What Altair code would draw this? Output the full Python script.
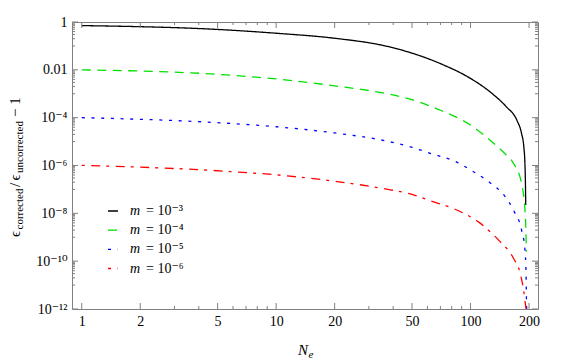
import altair as alt
import pandas as pd

# ---- data ----
series = ["m3", "m4", "m5", "m6"]
legend_labels = ["= 10⁻³", "= 10⁻⁴", "= 10⁻⁵", "= 10⁻⁶"]
colors = ["#000000", "#00e000", "#0000ff", "#ff0000"]
dashes = [[1, 0], [9, 6.5], [3, 6.7], [3, 6.5, 9, 6]]

n_m3 = [1, 5.5, 10, 20, 36, 49, 70, 100, 126, 153, 173, 183, 188, 190.6, 191.6, 192.3]
v_m3 = [0.708, 0.468, 0.339, 0.209, 0.102, 0.0525, 0.0182, 4.37e-3, 1.20e-3, 2.82e-4,
        7.94e-5, 2.19e-5, 6.03e-6, 1.05e-6, 2.0e-7, 2.24e-8]

n_m4 = [1, 5.5, 10, 20, 36, 49, 70, 100, 126, 150, 167, 183, 190.6, 193, 193.6]
v_m4 = [1.0e-2, 6.17e-3, 4.17e-3, 2.14e-3, 1.05e-3, 5.89e-4, 2.04e-4, 4.90e-5, 1.15e-5,
        3.16e-6, 1.17e-6, 1.78e-7, 1.38e-8, 1.07e-9, 2.5e-10]

n_m5 = [1, 5.5, 10, 20, 36, 49, 62, 85, 103.5, 126, 150, 168, 183, 190.6, 193, 194, 194.4]
v_m5 = [1.0e-4, 5.89e-5, 4.17e-5, 2.29e-5, 1.10e-5, 6.03e-6, 3.24e-6, 1.38e-6, 5.5e-7,
        1.91e-7, 5.25e-8, 1.17e-8, 2.04e-9, 2.95e-10, 3.16e-11, 2.5e-12, 1.0e-12]

n_m6 = [1, 5.5, 10, 20, 36, 49, 64, 85, 112, 139, 166, 180, 188, 192.3, 193.2]
v_m6 = [1.02e-6, 5.75e-7, 4.07e-7, 2.19e-7, 1.07e-7, 6.46e-8, 3.09e-8, 1.38e-8, 3.89e-9,
        7.76e-10, 1.35e-10, 3.16e-11, 5.37e-12, 1.29e-12, 1.0e-12]

x_major = [1, 2, 5, 10, 20, 50, 100, 200]
x_minor = [3, 4, 6, 7, 8, 9, 30, 40, 60, 70, 80, 90]
y_major = [1, 1e-2, 1e-4, 1e-6, 1e-8, 1e-10, 1e-12]
y_major_labels = ["1", "0.01", "10⁻⁴", "10⁻⁶", "10⁻⁸", "10⁻¹⁰", "10⁻¹²"]
y_minor = [k * 10.0 ** e for e in [-1, -3, -5, -7, -9, -11] for k in range(1, 10)]

# ---- tables ----
rows = []
for s, ns, vs in zip(series, [n_m3, n_m4, n_m5, n_m6], [v_m3, v_m4, v_m5, v_m6]):
    for n, v in zip(ns, vs):
        rows.append({"series": s, "N": n, "v": v})
df = pd.DataFrame(rows)
df_leg = pd.DataFrame({"series": series, "label": legend_labels})
one = pd.DataFrame({"a": [0]})

W, H = 466, 287
SERIF = "'Liberation Serif', 'DejaVu Serif', serif"
FRAME = "#808080"

xs = alt.Scale(type="log", domain=[0.891, 222.4], nice=False)
ys = alt.Scale(type="log", domain=[1e-12, 1], nice=False)
cs = alt.Scale(domain=series, range=colors)
ds = alt.Scale(domain=series, range=dashes)

exp_vals = [0, -2, -4, -6, -8, -10, -12]
label_expr = ""
for e, lab in zip(exp_vals, y_major_labels):
    label_expr += f"round(log(datum.value)/LN10) == {e} ? '{lab}' : "
label_expr += "''"

x_axis = alt.Axis(values=x_major, ticks=False, domain=False, grid=False, title=None,
                  labelFont=SERIF, labelFontSize=14, labelColor="black",
                  labelPadding=5, labelFlush=False, format="d")
y_axis = alt.Axis(values=y_major, ticks=False, domain=False, grid=False, title=None,
                  labelFont=SERIF, labelFontSize=14, labelColor="black",
                  labelPadding=5, labelFlush=False, labelExpr=label_expr)

lines = alt.Chart(df).mark_line(strokeWidth=1.3, clip=True, interpolate="monotone").encode(
    x=alt.X("N:Q", scale=xs, axis=x_axis),
    y=alt.Y("v:Q", scale=ys, axis=y_axis),
    color=alt.Color("series:N", scale=cs, legend=None),
    strokeDash=alt.StrokeDash("series:N", scale=ds, legend=None),
)


def xticks(vals, length):
    d = pd.DataFrame({"t": vals})
    base = alt.Chart(d).mark_rule(color=FRAME, strokeWidth=1)
    bot = base.encode(x=alt.X("t:Q", scale=xs, axis=None), y=alt.value(H), y2=alt.value(H - length))
    top = base.encode(x=alt.X("t:Q", scale=xs, axis=None), y=alt.value(0), y2=alt.value(length))
    return [bot, top]


def yticks(vals, length):
    d = pd.DataFrame({"t": vals})
    base = alt.Chart(d).mark_rule(color=FRAME, strokeWidth=1)
    left = base.encode(y=alt.Y("t:Q", scale=ys, axis=None), x=alt.value(0), x2=alt.value(length))
    right = base.encode(y=alt.Y("t:Q", scale=ys, axis=None), x=alt.value(W), x2=alt.value(W - length))
    return [left, right]


tick_layers = xticks(x_major, 6) + xticks(x_minor, 3) + yticks(y_major, 6) + yticks(y_minor, 3)

# ---- legend (inside plot, lower left) ----
leg_y = alt.Y("series:N", scale=alt.Scale(type="point", domain=series, range=[189, 246.5], padding=0), axis=None)
leg_sym = alt.Chart(df_leg).mark_rule(strokeWidth=1.3).encode(
    y=leg_y, x=alt.value(36), x2=alt.value(46),
    color=alt.Color("series:N", scale=cs, legend=None),
    strokeDash=alt.StrokeDash("series:N", scale=ds, legend=None),
)
leg_m = alt.Chart(df_leg).mark_text(text="m", font=SERIF, fontStyle="italic", fontSize=14,
                                     align="left", baseline="middle", color="black").encode(
    y=leg_y, x=alt.value(58))
leg_txt = alt.Chart(df_leg).mark_text(font=SERIF, fontSize=14, align="left",
                                       baseline="middle", color="black").encode(
    y=leg_y, x=alt.value(74), text="label:N")

# ---- axis titles built from pieces (sub/superscripts) ----
def piece(txt, x, y, size, angle=0, style="normal"):
    return alt.Chart(one).mark_text(text=txt, font=SERIF, fontSize=size, fontStyle=style,
                                    align="left", baseline="alphabetic", angle=angle,
                                    color="black").encode(x=alt.value(x), y=alt.value(y))


ytitle = [
    piece("ϵ", -52, 215, 15, 270),
    piece("corrected", -49.5, 207.5, 11, 270),
    piece("/", -52, 165, 15, 270),
    piece("ϵ", -52, 158.5, 15, 270),
    piece("uncorrected", -49.5, 151, 11, 270),
    piece("− 1", -52, 95, 15, 270),
]
xtitle = [
    piece("N", 226, 333, 15, 0, "italic"),
    piece("e", 236.5, 336, 11, 0, "italic"),
]

chart = alt.layer(
    lines, *tick_layers, leg_sym, leg_m, leg_txt, *ytitle, *xtitle
).resolve_scale(y="independent").resolve_axis(x="independent").properties(
    width=W, height=H,
    padding={"left": 64, "top": 14, "right": 30, "bottom": 50},
    autosize=alt.AutoSizeParams(type="none"),
).configure_view(stroke=FRAME, strokeWidth=1)

chart.save("out.html", embed_options={"renderer": "svg", "actions": False})
